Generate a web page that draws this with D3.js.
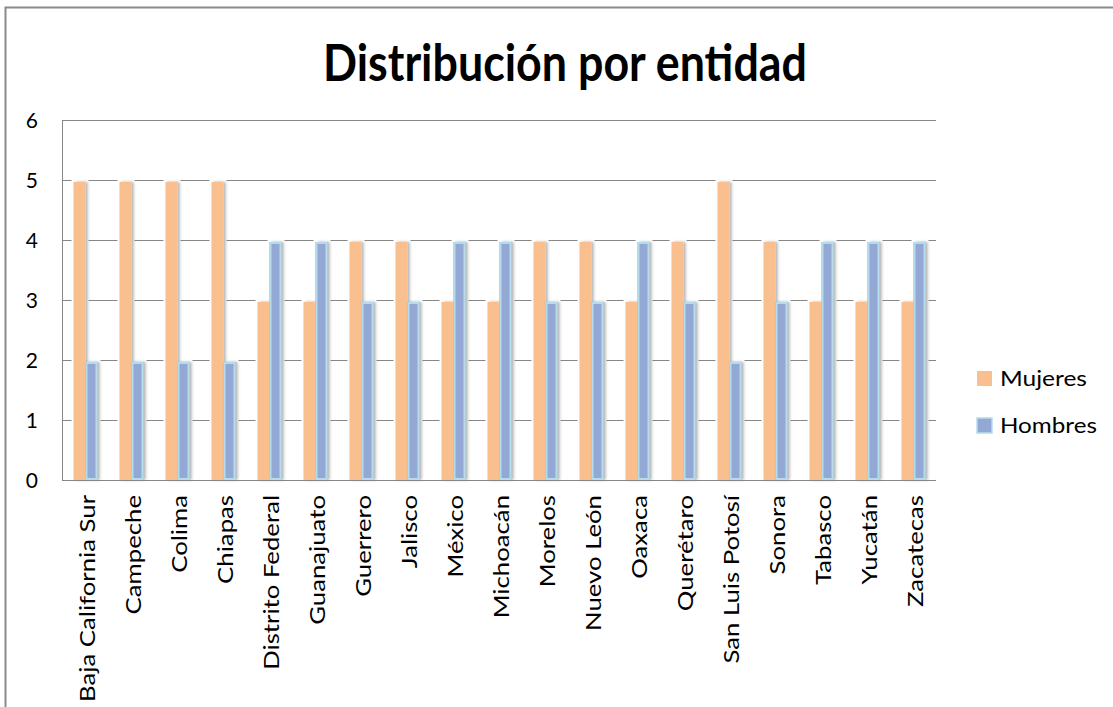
<!DOCTYPE html>
<html><head><meta charset="utf-8">
<script src="https://cdn.jsdelivr.net/npm/d3@7/dist/d3.min.js"></script>
<style>html,body{margin:0;padding:0;background:#fff;} svg{display:block;}</style>
</head><body>
<svg id="chart" width="1113" height="707"></svg>
<script>
const title = "Distribución por entidad";
const categories = ["Baja California Sur","Campeche","Colima","Chiapas","Distrito Federal","Guanajuato","Guerrero","Jalisco","México","Michoacán","Morelos","Nuevo León","Oaxaca","Querétaro","San Luis Potosí","Sonora","Tabasco","Yucatán","Zacatecas"];
const mujeres = [5,5,5,5,3,3,4,4,3,3,4,4,3,4,5,4,3,3,3];
const hombres = [2,2,2,2,4,4,3,3,4,4,3,3,4,3,2,3,4,4,4];
const seriesNames = ["Mujeres","Hombres"];
const yTicks = [0,1,2,3,4,5,6];

const svg = d3.select("#chart");
const font = "Lato, 'Open Sans', sans-serif";
const plot = {left:62, right:936, top:120, bottom:480};

const defs = svg.append("defs");
const f = defs.append("filter").attr("id","sh").attr("x","-50%").attr("y","-10%").attr("width","200%").attr("height","120%");
f.append("feDropShadow").attr("dx",2).attr("dy",0).attr("stdDeviation",1.4).attr("flood-color","#000").attr("flood-opacity",0.32);

// outer frame
svg.append("rect").attr("x",5.5).attr("y",7.5).attr("width",1200).attr("height",800)
  .attr("fill","none").attr("stroke","#8a8a8a").attr("stroke-width",2);

const x0 = d3.scaleBand().domain(categories).range([plot.left, plot.right]).padding(0);
const y = d3.scaleLinear().domain([0,6]).range([plot.bottom, plot.top]);
const barW = 12;

// gridlines
svg.append("g").selectAll("line").data(yTicks).join("line")
  .attr("x1",plot.left).attr("x2",plot.right)
  .attr("y1",d=>Math.round(y(d))+0.5).attr("y2",d=>Math.round(y(d))+0.5)
  .attr("stroke","#878787").attr("stroke-width",1);
// left axis line
svg.append("line").attr("x1",plot.left+0.5).attr("x2",plot.left+0.5)
  .attr("y1",plot.top).attr("y2",plot.bottom).attr("stroke","#878787");

// y tick labels
svg.append("g").selectAll("text").data(yTicks).join("text")
  .attr("x",38).attr("y",d=>y(d)+7.5).attr("text-anchor","end")
  .attr("font-family",font).attr("font-size",21).attr("fill","#000")
  .text(d=>d);

// bars
const data = categories.map((c,i)=>({c, v:[mujeres[i], hombres[i]]}));
const fills = ["#F9BF8F","#93A8D4"];
const strokes = ["none","#B5DCEA"];
const g = svg.append("g");
data.forEach(d=>{
  const cx = x0(d.c) + x0.bandwidth()/2 + 0.5;
  d.v.forEach((v,k)=>{
    const bx = cx - barW + k*barW;
    g.append("rect").attr("x",bx-2).attr("y",y(v)).attr("width",barW+5).attr("height",y(0)-y(v))
      .attr("fill","#fff");
  });
});
data.forEach(d=>{
  const cx = x0(d.c) + x0.bandwidth()/2 + 0.5;
  d.v.forEach((v,k)=>{
    const bx = cx - barW + k*barW;
    g.append("rect").attr("x",bx).attr("y",y(v)+2).attr("width",barW).attr("height",y(0)-y(v)-2)
      .attr("fill",fills[k]).attr("filter","url(#sh)");
    if(k===1){
      g.append("rect").attr("x",bx+1).attr("y",y(v)+3).attr("width",barW-2).attr("height",y(0)-y(v)-4)
        .attr("fill","none").attr("stroke",strokes[k]).attr("stroke-width",2);
    }
  });
});

// bottom axis line
svg.append("line").attr("x1",plot.left).attr("x2",plot.right)
  .attr("y1",plot.bottom+0.5).attr("y2",plot.bottom+0.5).attr("stroke","#878787");

// category labels
const labs = svg.append("g").selectAll("text").data(categories).join("text")
  .attr("text-anchor","end")
  .attr("font-family",font).attr("font-size",22).attr("fill","#000")
  .text(d=>d);
const natBaja = labs.nodes()[0].getComputedTextLength();
const kLab = 207/natBaja;
labs.attr("transform",d=>`translate(${x0(d)+x0.bandwidth()/2+9.5},495) rotate(-90) scale(${kLab},1)`);

// title
const t = svg.append("text").attr("text-anchor","middle")
  .attr("font-family",font).attr("font-weight","bold").attr("font-size",51).attr("fill","#000")
  .text(title);
const natT = t.node().getComputedTextLength();
t.attr("transform",`translate(565,81) scale(${484/natT},1)`);

// legend
const leg = svg.append("g");
const legY = [371,418];
seriesNames.forEach((n,k)=>{
  leg.append("rect").attr("x",977).attr("y",legY[k]).attr("width",15).attr("height",15)
    .attr("fill",fills[k]).attr("stroke",k===1?strokes[1]:"none").attr("stroke-width",k===1?1.5:0);
  const tx = leg.append("text").attr("font-family",font).attr("font-size",21)
    .attr("fill","#000").text(n);
  const nat = tx.node().getComputedTextLength();
  const target = k===0 ? 87 : 97;
  tx.attr("transform",`translate(1000,${legY[k]+15}) scale(${target/nat},1)`);
});
</script>
</body></html>
